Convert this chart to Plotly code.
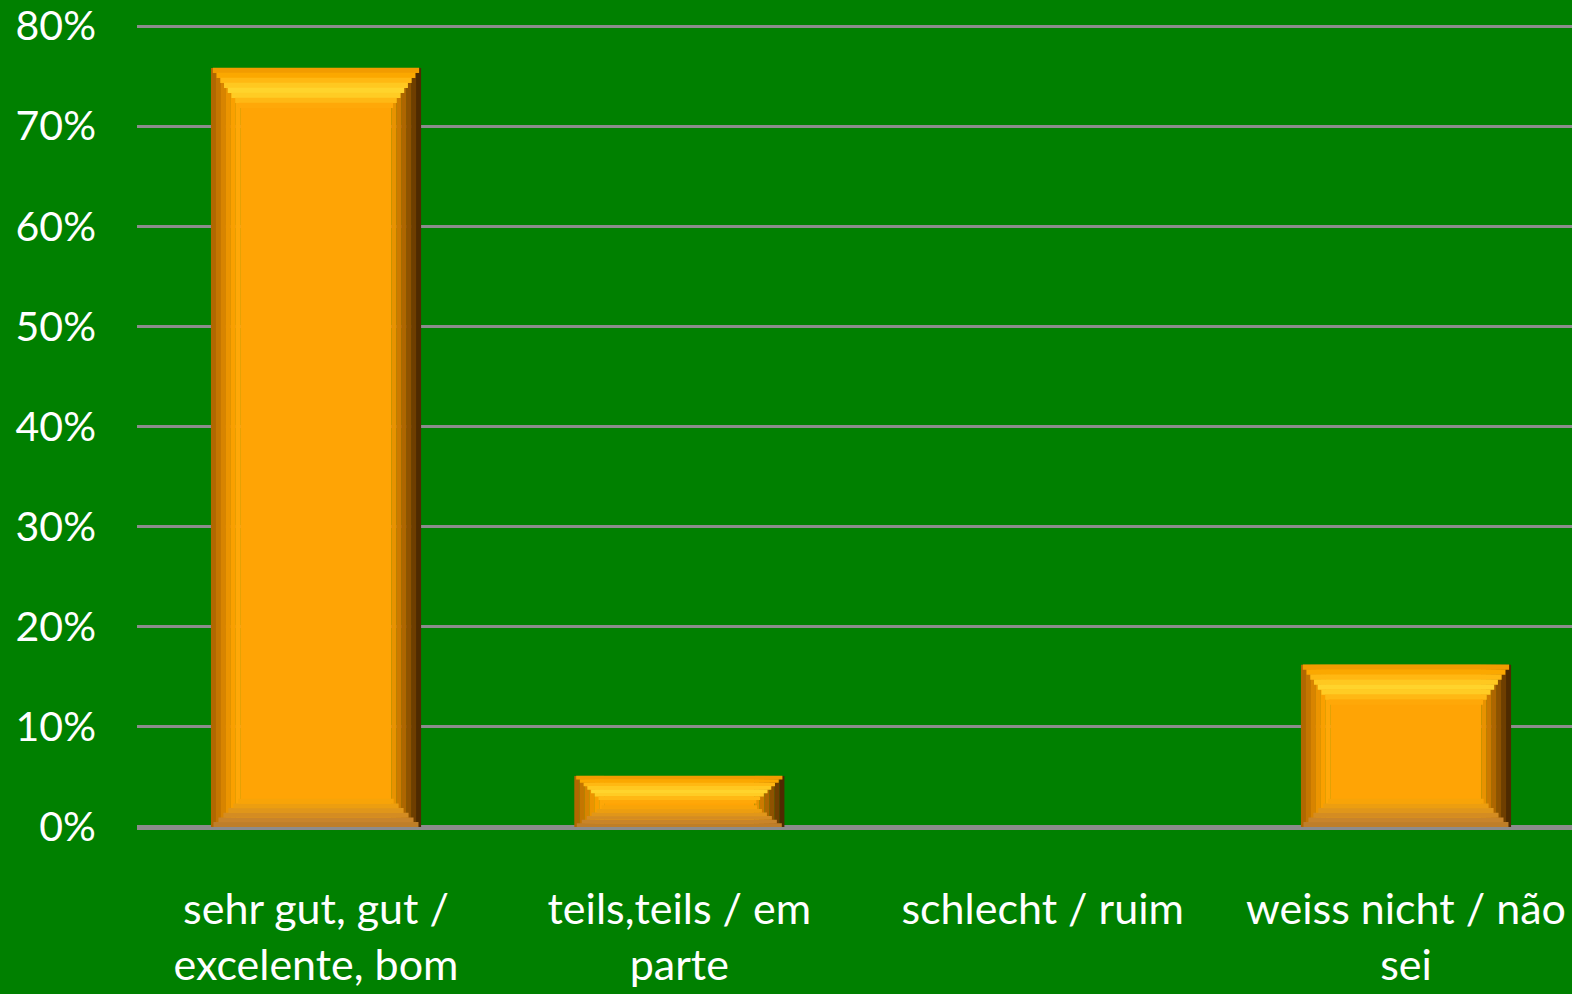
import plotly.graph_objects as go

categories = ["sehr gut, gut /<br>excelente, bom", "teils,teils / em<br>parte",
              "schlecht / ruim", "weiss nicht / não<br>sei"]
values = [75.8, 5.1, 0.0, 16.2]
y_tickvals = [0, 10, 20, 30, 40, 50, 60, 70, 80]
y_ticktext = ["0%", "10%", "20%", "30%", "40%", "50%", "60%", "70%", "80%"]

BG = "#008000"
GRID = "#8C8C8C"
FACE = "#FFA405"

W = 0.578      # bar width (category units)
DS = 0.082     # side bevel width
TOP = 4.0      # top bevel height (%)
BOT = 2.8      # bottom bevel height (%)

left_cols = ["#B06800", "#C47600", "#D88400", "#EC9400", "#FAA000", "#FFA808"]
right_cols = ["#4E2A00", "#6E3E00", "#8E5200", "#AE6600", "#CC7A00", "#E89200"]
top_cols = ["#F29C00", "#FBA800", "#FFB812", "#FFC820", "#FFD42C", "#FFCC24", "#FFB814", "#FFA808"]
bot_cols = ["#BE7E28", "#C8842A", "#D48C22", "#E0961A", "#EC9E10", "#F8A408"]

x = list(range(len(categories)))
fig = go.Figure()

def add(y, base, offset, width, color):
    fig.add_trace(go.Bar(x=x, y=y, base=base, offset=offset, width=width,
                         marker=dict(color=color, line=dict(width=0)),
                         hoverinfo="skip", showlegend=False))

n_s = len(left_cols)
ds = DS / n_s
for j in range(n_s):
    add(values, [0] * len(values), -W / 2 + j * ds, ds * 1.02, left_cols[j])
for j in range(n_s):
    add(values, [0] * len(values), W / 2 - (j + 1) * ds, ds * 1.02, right_cols[j])
# face
add(values, [0] * len(values), -W / 2 + DS, W - 2 * DS, FACE)

# top bevel (staircase trapezoid)
tops = [min(TOP, 0.54 * v) for v in values]
n_t = len(top_cols)
for k in range(n_t):
    h = [t / n_t for t in tops]
    b = [v - (k + 1) * t / n_t for v, t in zip(values, tops)]
    inset = DS * (k + 0.5) / n_t
    add([hh * 1.05 for hh in h], b, -W / 2 + inset, W - 2 * inset, top_cols[k])

# bottom bevel
bots = [min(BOT, 0.42 * v) for v in values]
n_b = len(bot_cols)
for k in range(n_b):
    h = [t / n_b for t in bots]
    b = [k * t / n_b for t in bots]
    inset = DS * (k + 0.5) / n_b
    add([hh * 1.05 for hh in h], b, -W / 2 + inset, W - 2 * inset, bot_cols[k])

fig.update_layout(
    width=1572, height=994,
    barmode="overlay",
    paper_bgcolor=BG, plot_bgcolor=BG,
    margin=dict(l=137, r=0, t=21, b=167),
    font=dict(family="Lato, Carlito, 'Open Sans', sans-serif", color="white", size=40),
    showlegend=False,
)
fig.update_xaxes(
    tickmode="array", tickvals=x, ticktext=categories,
    range=[-0.4926, 3.457],
    showgrid=False, zeroline=False, showline=False,
    tickfont=dict(size=43, color="white"),
    ticks="", ticklabelstandoff=53, ticklabeloverflow="allow",
)
fig.update_yaxes(
    range=[0, 80.3], tickmode="array", tickvals=y_tickvals, ticktext=y_ticktext,
    showgrid=True, gridcolor=GRID, gridwidth=3,
    zeroline=True, zerolinecolor=GRID, zerolinewidth=5,
    showline=False, ticks="", ticklabelstandoff=40, ticklabeloverflow="allow",
    tickfont=dict(size=41, color="white"),
)

fig.write_html(
    "out.html",
    config={"displayModeBar": False},
    post_script="document.body.style.margin='0px';document.body.style.overflow='hidden';",
)
